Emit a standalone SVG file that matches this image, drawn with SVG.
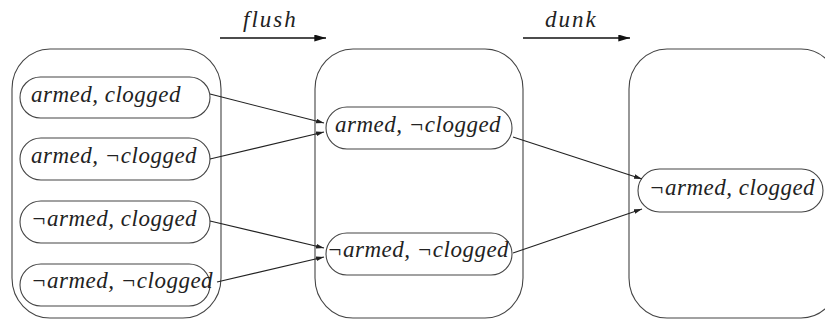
<svg xmlns="http://www.w3.org/2000/svg" width="825" height="320" viewBox="0 0 825 320">
  <style>
    .box { fill: none; stroke: #444; stroke-width: 1.1; }
    .pill { fill: #fff; stroke: #444; stroke-width: 1.1; }
    .lbl { fill: #222; letter-spacing: 0.5px; }
    .act { fill: #222; letter-spacing: 2px; }
    .edge { fill: none; stroke: #222; stroke-width: 1.1; marker-end: url(#arrow); }
    .action { fill: none; stroke: #111; stroke-width: 1.6; marker-end: url(#arrowBig); }
  </style>
  <defs>
    <marker id="arrow" viewBox="0 0 10 6" refX="10" refY="3" markerWidth="8" markerHeight="5" markerUnits="userSpaceOnUse" orient="auto">
      <path d="M0,0 L10,3 L0,6 Z" fill="#222"/>
    </marker>
    <marker id="arrowBig" viewBox="0 0 10 6" refX="10" refY="3" markerWidth="12" markerHeight="7" markerUnits="userSpaceOnUse" orient="auto">
      <path d="M0,0 L10,3 L0,6 Z" fill="#111"/>
    </marker>
  </defs>

  <g font-family="Liberation Serif, Times New Roman, serif" font-style="italic" font-size="23">
    <!-- action labels -->
    <g id="action-flush">
      <line class="action" x1="220" y1="38" x2="326" y2="38"/>
      <text class="act" x="243" y="27">flush</text>
    </g>
    <g id="action-dunk">
      <line class="action" x1="523" y1="38" x2="630" y2="38"/>
      <text class="act" x="545" y="27">dunk</text>
    </g>

    <!-- belief states -->
    <g id="belief-initial">
      <rect class="box" x="12" y="49" width="209" height="269" rx="38" ry="40"/>
    </g>
    <g id="belief-after-flush">
      <rect class="box" x="315" y="49" width="208" height="269" rx="38" ry="40"/>
    </g>
    <g id="belief-after-dunk">
      <rect class="box" x="629" y="49" width="210" height="269" rx="38" ry="40"/>
    </g>

    <!-- physical states -->
    <g id="s-armed-clogged">
      <rect class="pill" x="20" y="77" width="190" height="41" rx="20.5"/>
      <text class="lbl" x="31" y="102">armed, clogged</text>
    </g>
    <g id="s-armed-notclogged">
      <rect class="pill" x="20" y="138" width="190" height="42" rx="21"/>
      <text class="lbl" x="31" y="163">armed, ¬clogged</text>
    </g>
    <g id="s-notarmed-clogged">
      <rect class="pill" x="20" y="201" width="190" height="42" rx="21"/>
      <text class="lbl" x="31" y="226">¬armed, clogged</text>
    </g>
    <g id="s-notarmed-notclogged">
      <rect class="pill" x="20" y="264" width="190" height="42" rx="21"/>
      <text class="lbl" x="31" y="288">¬armed, ¬clogged</text>
    </g>

    <g id="f-armed-notclogged">
      <rect class="pill" x="326" y="107" width="186" height="42" rx="21"/>
      <text class="lbl" x="335" y="132">armed, ¬clogged</text>
    </g>
    <g id="f-notarmed-notclogged">
      <rect class="pill" x="326" y="233" width="186" height="42" rx="21"/>
      <text class="lbl" x="327" y="257">¬armed, ¬clogged</text>
    </g>

    <g id="d-notarmed-clogged">
      <rect class="pill" x="638" y="169" width="185" height="43" rx="21.5"/>
      <text class="lbl" x="649" y="195">¬armed, clogged</text>
    </g>
  </g>

  <!-- transitions -->
  <g id="connectors">
    <line class="edge" x1="210" y1="94" x2="324" y2="123"/>
    <line class="edge" x1="210" y1="159" x2="324" y2="132"/>
    <line class="edge" x1="210" y1="221" x2="324" y2="248"/>
    <line class="edge" x1="217" y1="282" x2="324" y2="257"/>
    <line class="edge" x1="513" y1="137" x2="642" y2="179"/>
    <line class="edge" x1="513" y1="253" x2="642" y2="209"/>
  </g>
</svg>
